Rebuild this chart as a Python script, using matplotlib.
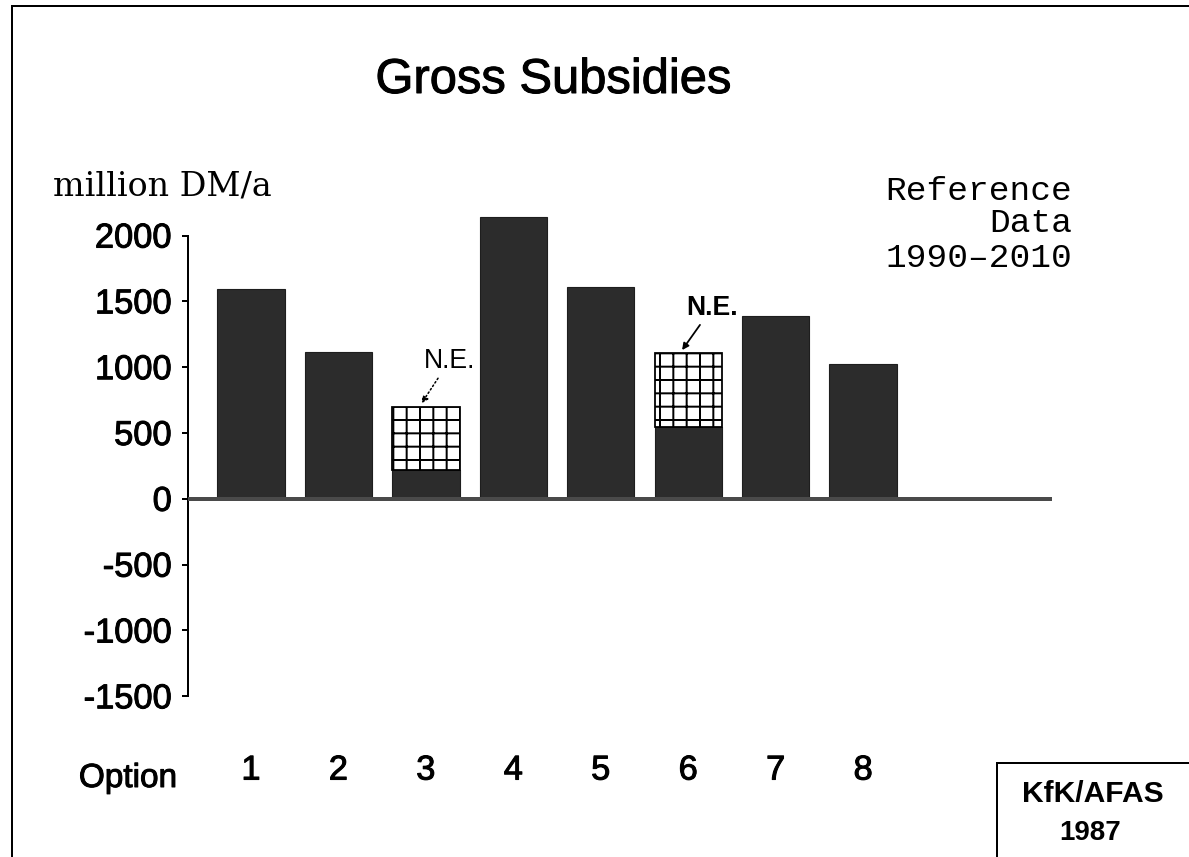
import numpy as np
import matplotlib.pyplot as plt
import matplotlib.patheffects as pe
from matplotlib.lines import Line2D

# values (million DM/a)
options = [1, 2, 3, 4, 5, 6, 7, 8]
total = [1595, 1115, 700, 2140, 1610, 1110, 1390, 1025]
assessed = [1595, 1115, 220, 2140, 1610, 545, 1390, 1025]
ne_options = [3, 6]          # options with a "not estimated" part
yticks = [-1500, -1000, -500, 0, 500, 1000, 1500, 2000]

W, H = 1189, 857
dpi = 80
plt.rcParams['hatch.linewidth'] = 1.8
sans = 'Liberation Sans'
# scanned print looks a bit heavier than the plain font
thick = [pe.withStroke(linewidth=0.9, foreground='black')]

fig = plt.figure(figsize=(W / dpi, H / dpi), dpi=dpi)


def box(x0, y0, x1, y1):
    # pixel box (from top-left) -> figure fraction rect
    return [x0 / W, 1 - y1 / H, (x1 - x0) / W, (y1 - y0) / H]


def fx(x):
    return x / W


def fy(y):
    return 1 - y / H


ax = fig.add_axes(box(188, 200, 1052, 720))

total = np.array(total)
assessed = np.array(assessed)
rest = total - assessed

ax.bar(options, assessed, width=0.77, color='#2c2c2c', edgecolor='#1e1e1e', lw=1)
idx = [options.index(o) for o in ne_options]
ax.bar([options[i] for i in idx], rest[idx], bottom=assessed[idx], width=0.77,
       color='white', edgecolor='black', hatch='+', lw=1.6)

ax.axhline(0, color='#4a4a4a', lw=3.6, zorder=3)

ax.set_xlim(0.28, 10.16)
ax.set_ylim(-1680, 2270)

for s in ['top', 'right', 'bottom']:
    ax.spines[s].set_visible(False)
ax.spines['left'].set_bounds(-1500, 2000)
ax.spines['left'].set_linewidth(1.8)

ax.set_yticks(yticks)
ax.set_yticklabels([str(v) for v in yticks], fontsize=31, family=sans)
ax.tick_params(axis='y', length=5.5, width=1.8, pad=9)

ax.set_xticks(options)
ax.set_xticklabels([str(o) for o in options], fontsize=31, family=sans)
ax.tick_params(axis='x', length=0, pad=32)
for lab in ax.get_yticklabels() + ax.get_xticklabels():
    lab.set_path_effects(thick)

# N.E. annotations
ax.annotate('N.E.', xy=(ne_options[0] - 0.05, total[idx[0]] + 25),
            xytext=(25, 38), textcoords='offset points', ha='center', va='center',
            fontsize=24, family=sans,
            arrowprops=dict(arrowstyle='-|>', ls=':', lw=1.4, color='black',
                            mutation_scale=12, shrinkB=0))
ax.annotate('N.E.', xy=(ne_options[1] - 0.07, total[idx[1]] + 20),
            xytext=(27, 38), textcoords='offset points', ha='center', va='center',
            fontsize=24, family=sans, fontweight='bold',
            arrowprops=dict(arrowstyle='-|>', lw=1.6, color='black',
                            mutation_scale=12, shrinkB=0))

# texts around the plot
fig.text(fx(553), fy(93), 'Gross Subsidies', ha='center', va='baseline',
         fontsize=44, family=sans, path_effects=thick)
fig.text(fx(53), fy(195), 'million DM/a', ha='left', va='baseline',
         fontsize=30, family='DejaVu Serif')
for t, yb in zip(['Reference', 'Data', '1990\u20132010'], [200, 232, 267]):
    fig.text(fx(1072), fy(yb), t, ha='right', va='baseline',
             fontsize=31, family='Liberation Mono')
fig.text(fx(128), fy(787), 'Option', ha='center', va='baseline',
         fontsize=30, family=sans, path_effects=thick)
fig.text(fx(1093), fy(802), 'KfK/AFAS', ha='center', va='baseline',
         fontsize=27, family=sans, fontweight='bold')
fig.text(fx(1090), fy(840), '1987', ha='center', va='baseline',
         fontsize=25, family=sans, fontweight='bold')

# page frame and stamp box
lines = [((12, 12), (6, H)), ((12, W), (6, 6)),
         ((997, 997), (763, H)), ((997, W), (763, 763))]
for xs, ys in lines:
    fig.add_artist(Line2D([fx(x) for x in xs], [fy(y) for y in ys],
                          transform=fig.transFigure, color='black', lw=1.8))

fig.savefig('out.png', dpi=dpi)
